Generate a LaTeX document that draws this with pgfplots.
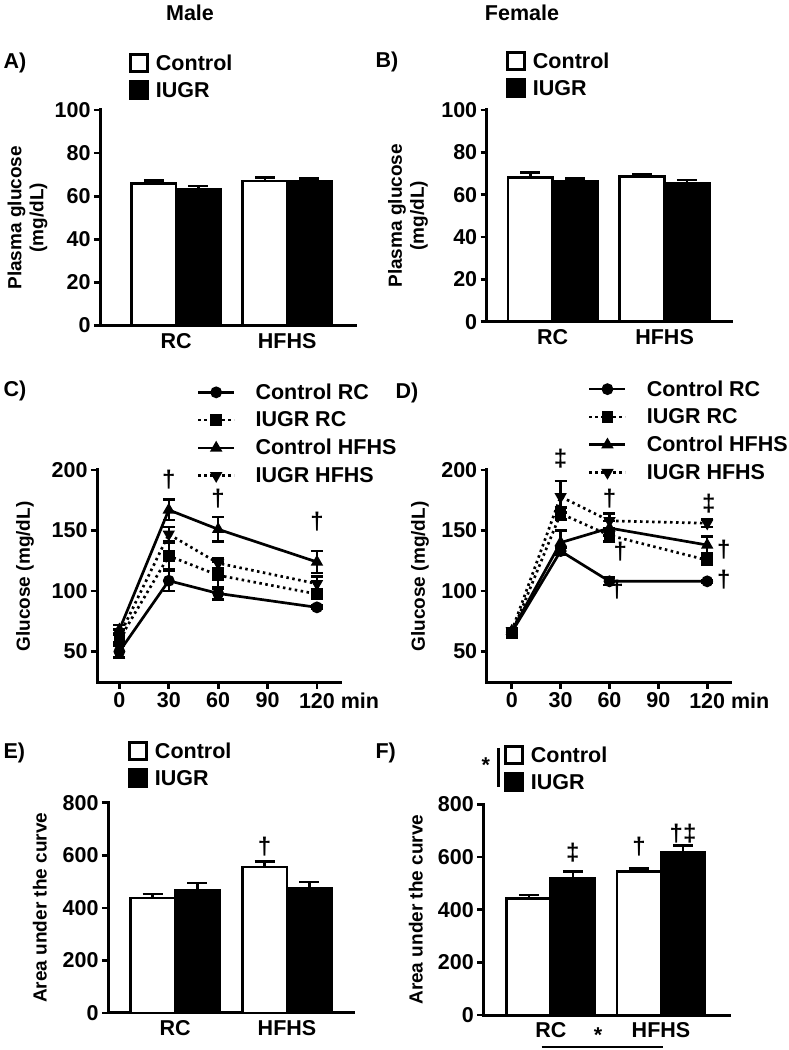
\documentclass[border=0pt]{standalone}
\usepackage{fontspec}
\setmainfont{Liberation Sans}
\usepackage{pgfplots}
\pgfplotsset{compat=1.18}

\newcommand\tf{\fontsize{21.5}{25}\selectfont\bfseries}
\newcommand\lf{\fontsize{19}{22}\selectfont\bfseries}
\newcommand\df{\fontsize{24}{26}\selectfont\bfseries}

\pgfplotsset{
 common/.style={
   scale only axis, anchor=south west, clip=false,
   axis lines*=left,
   axis line style={line width=3pt, line cap=rect},
   every tick/.style={line width=2.7pt, black},
   tick align=outside,
   major tick length=6pt,
   ticklabel style={font=\tf},
   /pgf/number format/assume math mode=true,
   every axis y label/.style={font=\lf, rotate=90, anchor=center, align=center},
   legend style={draw=none, fill=none, font=\tf, anchor=north west, inner sep=0pt,
     row sep=6pt, column sep=5pt, legend cell align=left, nodes={inner sep=2pt}},
 },
 barax/.style={common, ymin=0, xtick={1,2}, xticklabels={RC,HFHS},
   x tick style={draw=none}, xticklabel style={yshift=2pt}},
 lineax/.style={common, ymin=24, ymax=200, ytick={50,100,150,200},
   xtick={0,30,60,90,120}, xticklabels={0,30,60,90,{120\rlap{ min}}},
   ylabel={Glucose (mg/dL)}, legend style={column sep=18pt, row sep=7pt}},
 ctrlbar/.style={ybar, bar width=0.4, bar shift=0pt, fill=white, draw=black, line width=2.7pt,
   legend image code/.code={\draw[line width=2.7pt, fill=white] (0pt,-8pt) rectangle (17pt,9pt);},
   error bars/y dir=plus, error bars/y explicit, error bars/error mark=|,
   error bars/error bar style={line width=2.5pt, black},
   error bars/error mark options={line width=2.5pt, mark size=10pt, black}},
 iugrbar/.style={ybar, bar width=0.4, bar shift=0pt, fill=black, draw=black, line width=2.7pt,
   legend image code/.code={\draw[line width=2.7pt, fill=black] (0pt,-8pt) rectangle (17pt,9pt);},
   error bars/y dir=plus, error bars/y explicit, error bars/error mark=|,
   error bars/error bar style={line width=2.5pt, black},
   error bars/error mark options={line width=2.5pt, mark size=10pt, black}},
 ln/.style={black, line width=2.7pt, mark size=4.5pt,
   legend image code/.code={\draw[mark repeat=2, mark phase=2, ##1] plot coordinates {(0pt,0pt) (18pt,0pt) (36pt,0pt)};},
   error bars/y dir=both, error bars/y explicit, error bars/error mark=|,
   error bars/error bar style={solid, line width=2.5pt, black},
   error bars/error mark options={solid, line width=2.5pt, mark size=6pt, black}},
 dt/.style={dash pattern=on 2.5pt off 3.5pt, mark options={solid}},
}

\begin{document}
\begin{tikzpicture}[x=1pt,y=1pt]
\useasboundingbox (0,0) rectangle (789,1050);

% titles and panel letters
\node[font=\tf] at (190,1037) {Male};
\node[font=\tf] at (522,1037) {Female};
\node[font=\tf, anchor=west] at (0,987) {A)};
\node[font=\tf, anchor=west] at (372,988) {B)};
\node[font=\tf, anchor=west] at (0,659) {C)};
\node[font=\tf, anchor=west] at (392,657) {D)};
\node[font=\tf, anchor=west] at (0,297) {E)};
\node[font=\tf, anchor=west] at (372,297) {F)};

% ---------------- A ----------------
\begin{axis}[barax, at={(100pt,724.5pt)}, width=255pt, height=215.5pt,
  xmin=0.315, xmax=2.61, ymax=100, ytick={0,20,40,60,80,100},
  ylabel={Plasma glucose\\(mg/dL)},
  ylabel style={at={(axis description cs:-0.284,0.5)}},
  legend style={at={(axis description cs:0.114,1.265)}}]
\addplot[ctrlbar] coordinates {(0.8,66) +- (0,1.3) (1.8,67.1) +- (0,1.6)};
\addlegendentry{Control}
\addplot[iugrbar] coordinates {(1.2,63.1) +- (0,1.7) (2.2,67.1) +- (0,1.2)};
\addlegendentry{IUGR}
\end{axis}

% ---------------- B ----------------
\begin{axis}[barax, at={(486.7pt,728.3pt)}, width=245pt, height=211.7pt,
  xmin=0.41, xmax=2.6, ymax=100, ytick={0,20,40,60,80,100},
  ylabel={Plasma glucose\\(mg/dL)},
  ylabel style={at={(axis description cs:-0.321,0.5)}},
  legend style={at={(axis description cs:0.079,1.279)}}]
\addplot[ctrlbar] coordinates {(0.8,68) +- (0,2.4) (1.8,68.5) +- (0,1.3)};
\addlegendentry{Control}
\addplot[iugrbar] coordinates {(1.2,66.1) +- (0,1.6) (2.2,65.4) +- (0,1.5)};
\addlegendentry{IUGR}
\end{axis}

% ---------------- C ----------------
\begin{axis}[lineax, at={(97pt,367pt)}, width=243pt, height=213pt,
  xmin=-13.6, xmax=134,
  ylabel style={at={(axis description cs:-0.296,0.5)}},
  legend style={at={(axis description cs:0.41,1.415)}}]
\addplot[ln, mark=*] coordinates {(0,50) +- (0,5) (30,108.5) +- (0,8.5) (60,98) +- (0,5) (120,86.5) +- (0,1.5)};
\addlegendentry{Control RC}
\addplot[ln, dt, mark=square*] coordinates {(0,60) +- (0,4) (30,129) +- (0,11) (60,113) +- (0,11) (120,97.5) +- (0,4)};
\addlegendentry{IUGR RC}
\addplot[ln, mark=triangle*] coordinates {(0,68) +- (0,4) (30,167) +- (0,8.5) (60,151) +- (0,10) (120,124) +- (0,9)};
\addlegendentry{Control HFHS}
\addplot[ln, dt, mark=triangle*, mark options={solid, rotate=180}] coordinates {(0,63) +- (0,5) (30,147) +- (0,6) (60,123) +- (0,4) (120,106) +- (0,6)};
\addlegendentry{IUGR HFHS}
\node[font=\df] at (axis cs:30,191.7) {†};
\node[font=\df] at (axis cs:60,176.6) {†};
\node[font=\df] at (axis cs:120,157.3) {†};
\end{axis}

% ---------------- D ----------------
\begin{axis}[lineax, at={(486.7pt,367pt)}, width=243.3pt, height=213pt,
  xmin=-15.4, xmax=134,
  ylabel style={at={(axis description cs:-0.274,0.5)}},
  legend style={at={(axis description cs:0.416,1.43)}}]
\addplot[ln, mark=*] coordinates {(0,66) +- (0,2) (30,133) +- (0,3) (60,108) +- (0,3) (120,108) +- (0,1)};
\addlegendentry{Control RC}
\addplot[ln, dt, mark=square*] coordinates {(0,65) +- (0,2) (30,164) +- (0,5) (60,146) +- (0,5) (120,125.5) +- (0,3)};
\addlegendentry{IUGR RC}
\addplot[ln, mark=triangle*] coordinates {(0,67) +- (0,2) (30,140) +- (0,10) (60,152) +- (0,6) (120,138) +- (0,7)};
\addlegendentry{Control HFHS}
\addplot[ln, dt, mark=triangle*, mark options={solid, rotate=180}] coordinates {(0,67) +- (0,2) (30,178) +- (0,13) (60,158) +- (0,6) (120,156) +- (0,3)};
\addlegendentry{IUGR HFHS}
\node[font=\df] at (axis cs:30,209.6) {‡};
\node[font=\df] at (axis cs:60,176.6) {†};
\node[font=\df] at (axis cs:66.6,132.6) {†};
\node[font=\df] at (axis cs:64.6,101) {†};
\node[font=\df] at (axis cs:121,172.5) {‡};
\node[font=\df] at (axis cs:130.2,134) {†};
\node[font=\df] at (axis cs:130.2,109.2) {†};
\end{axis}

% ---------------- E ----------------
\begin{axis}[barax, at={(108pt,37pt)}, width=245pt, height=210.3pt,
  xmin=0.40, xmax=2.59, ymax=800, ytick={0,200,400,600,800},
  ylabel={Area under the curve},
  ylabel style={at={(axis description cs:-0.278,0.5)}},
  legend style={at={(axis description cs:0.082,1.293)}}]
\addplot[ctrlbar] coordinates {(0.8,437) +- (0,15) (1.8,555) +- (0,21)};
\addlegendentry{Control}
\addplot[iugrbar] coordinates {(1.2,468) +- (0,27) (2.2,475) +- (0,23)};
\addlegendentry{IUGR}
\node[font=\df] at (axis cs:1.8,632) {†};
\end{axis}

% ---------------- F ----------------
\begin{axis}[barax, at={(483.3pt,35pt)}, width=246pt, height=210.7pt,
  xmin=0.387, xmax=2.62, ymax=800, ytick={0,200,400,600,800},
  ylabel={Area under the curve},
  ylabel style={at={(axis description cs:-0.274,0.5)}},
  legend style={at={(axis description cs:0.084,1.281)}}]
\addplot[ctrlbar] coordinates {(0.8,443) +- (0,13) (1.8,544) +- (0,13)};
\addlegendentry{Control}
\addplot[iugrbar] coordinates {(1.2,519) +- (0,25) (2.2,618) +- (0,25)};
\addlegendentry{IUGR}
\node[font=\df] at (axis cs:1.2,615) {‡};
\node[font=\df] at (axis cs:1.8,639) {†};
\node[font=\df] at (axis cs:2.2,690) {†‡};
\node[font=\tf] at (axis cs:0.409,950) {*};
\draw[line width=2.5pt] (axis cs:0.523,1014) -- (axis cs:0.523,866);
\node[font=\tf] at (axis cs:1.428,-75) {*};
\draw[line width=2.5pt] (axis cs:0.917,-121.5) -- (axis cs:2.02,-121.5);
\end{axis}
\end{tikzpicture}
\end{document}
